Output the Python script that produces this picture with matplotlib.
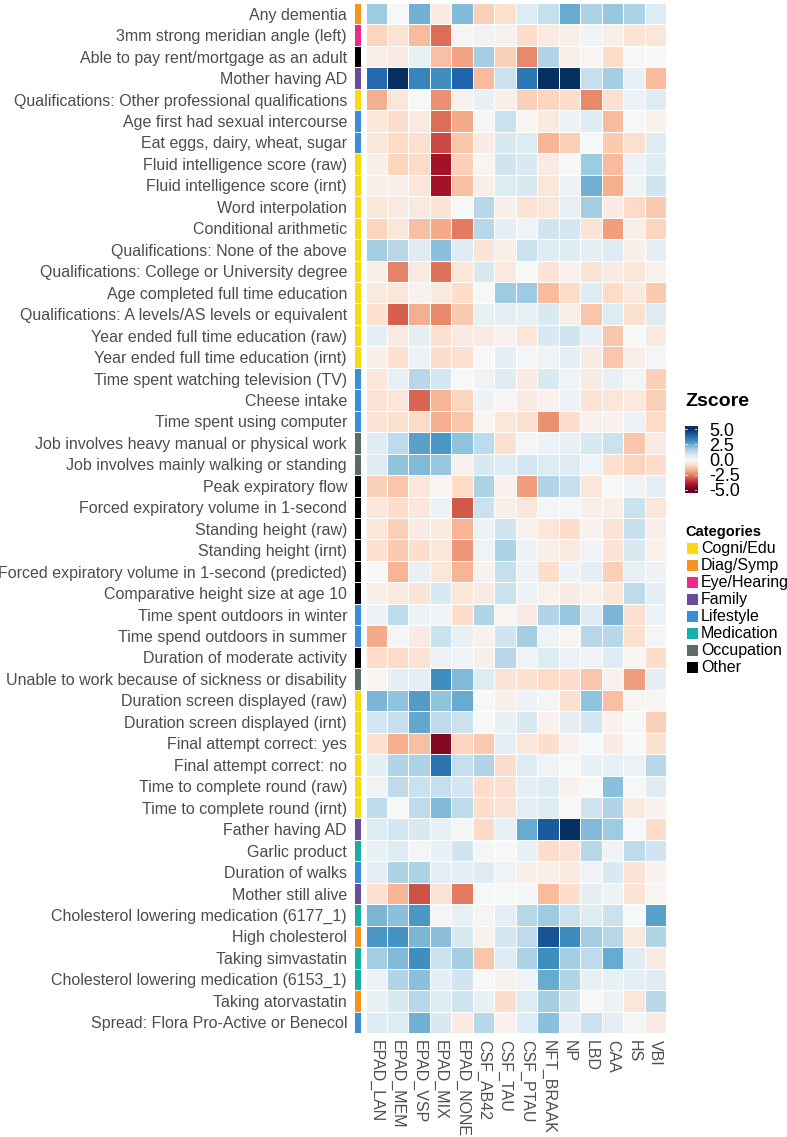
import numpy as np
import matplotlib
matplotlib.use("Agg")
import matplotlib.pyplot as plt
from matplotlib.colors import ListedColormap
from matplotlib.patches import Rectangle

plt.rcParams['font.family'] = ['Liberation Sans', 'DejaVu Sans']

colunas = ["EPAD_LAN", "EPAD_MEM", "EPAD_VSP", "EPAD_MIX", "EPAD_NONE", "CSF_AB42",
           "CSF_TAU", "CSF_PTAU", "NFT_BRAAK", "NP", "LBD", "CAA", "HS", "VBI"]

linhas = [
    "Any dementia",
    "3mm strong meridian angle (left)",
    "Able to pay rent/mortgage as an adult",
    "Mother having AD",
    "Qualifications: Other professional qualifications",
    "Age first had sexual intercourse",
    "Eat eggs, dairy, wheat, sugar",
    "Fluid intelligence score (raw)",
    "Fluid intelligence score (irnt)",
    "Word interpolation",
    "Conditional arithmetic",
    "Qualifications: None of the above",
    "Qualifications: College or University degree",
    "Age completed full time education",
    "Qualifications: A levels/AS levels or equivalent",
    "Year ended full time education (raw)",
    "Year ended full time education (irnt)",
    "Time spent watching television (TV)",
    "Cheese intake",
    "Time spent using computer",
    "Job involves heavy manual or physical work",
    "Job involves mainly walking or standing",
    "Peak expiratory flow",
    "Forced expiratory volume in 1-second",
    "Standing height (raw)",
    "Standing height (irnt)",
    "Forced expiratory volume in 1-second (predicted)",
    "Comparative height size at age 10",
    "Time spent outdoors in winter",
    "Time spend outdoors in summer",
    "Duration of moderate activity",
    "Unable to work because of sickness or disability",
    "Duration screen displayed (raw)",
    "Duration screen displayed (irnt)",
    "Final attempt correct: yes",
    "Final attempt correct: no",
    "Time to complete round (raw)",
    "Time to complete round (irnt)",
    "Father having AD",
    "Garlic product",
    "Duration of walks",
    "Mother still alive",
    "Cholesterol lowering medication (6177_1)",
    "High cholesterol",
    "Taking simvastatin",
    "Cholesterol lowering medication (6153_1)",
    "Taking atorvastatin",
    "Spread: Flora Pro-Active or Benecol",
]

categoria_linha = [
    "Diag/Symp", "Eye/Hearing", "Other", "Family", "Cogni/Edu", "Lifestyle", "Lifestyle",
    "Cogni/Edu", "Cogni/Edu", "Cogni/Edu", "Cogni/Edu", "Cogni/Edu", "Cogni/Edu",
    "Cogni/Edu", "Cogni/Edu", "Cogni/Edu", "Cogni/Edu", "Lifestyle", "Lifestyle",
    "Lifestyle", "Occupation", "Occupation", "Other", "Other", "Other", "Other", "Other",
    "Other", "Lifestyle", "Lifestyle", "Other", "Occupation", "Cogni/Edu", "Cogni/Edu",
    "Cogni/Edu", "Cogni/Edu", "Cogni/Edu", "Cogni/Edu", "Family", "Medication",
    "Lifestyle", "Family", "Medication", "Diag/Symp", "Medication", "Medication",
    "Diag/Symp", "Lifestyle",
]

categorias = ["Cogni/Edu", "Diag/Symp", "Eye/Hearing", "Family", "Lifestyle",
              "Medication", "Occupation", "Other"]
cores_cat = ["#FBD80F", "#F7941D", "#EC2A8C", "#6A4C9C", "#3A8FD6", "#17AFA7",
             "#5E6A68", "#000000"]

zscore = np.array([
    [1.8, 0.0, 2.4, -0.4, 2.2, -1.2, -0.8, 0.7, 1.2, 2.5, 1.6, 1.9, 1.6, 0.7],
    [-1.1, -0.7, -1.6, -2.8, -0.1, 0.2, -0.2, -0.9, -0.4, -0.3, 0.2, -0.3, -0.7, -0.6],
    [-0.3, -0.4, 0.4, -1.5, -2.0, 1.7, -1.2, -2.4, 1.5, -0.3, -0.1, -1.0, 0.0, 0.0],
    [3.9, 5.0, 3.3, 3.1, 4.0, -1.6, 1.1, 3.6, 5.0, 5.0, 1.2, 1.7, 0.4, -1.6],
    [-1.8, -0.6, 0.0, -2.3, -0.2, 0.4, -0.3, -1.2, -1.1, -0.9, -2.4, -0.8, 0.3, 0.6],
    [-0.6, -0.9, -0.5, -2.8, -1.9, 0.1, 1.1, -0.1, -0.5, 0.3, 0.6, -1.6, 0.0, -0.2],
    [-0.6, -1.0, -0.8, -3.3, -1.4, -0.4, 0.8, 0.7, -1.7, -1.2, 0.0, -1.3, -0.8, 0.6],
    [-0.3, -1.1, -1.0, -4.2, -1.2, -0.1, 1.0, 0.8, -0.4, 0.0, 1.8, -1.6, 0.3, 0.6],
    [-0.3, -0.3, -0.6, -4.2, -1.5, -0.3, 0.7, 0.8, -0.6, 0.3, 2.4, -1.8, 0.2, 1.0],
    [-0.6, -0.4, -0.5, -0.7, 0.0, 1.4, -0.3, -0.7, -0.6, 0.4, 1.7, -0.4, -1.0, -1.3],
    [-1.1, -0.6, -1.5, -1.9, -2.6, 1.4, 0.5, 0.2, 1.0, 0.9, -0.7, -2.1, -0.3, -1.1],
    [1.7, 1.4, 0.6, 2.1, 0.6, -0.7, -0.3, 1.1, 0.6, 0.6, 0.5, 0.6, -0.3, 0.5],
    [-0.3, -2.5, -0.5, -2.7, -0.6, 0.8, -0.5, 0.0, -0.7, -0.2, -0.7, -0.4, -0.6, -0.2],
    [-0.5, -0.6, -0.2, -0.5, -0.9, 0.0, 1.8, 1.8, -1.6, -1.0, 0.7, -1.0, -0.5, -1.3],
    [-0.8, -3.0, -1.8, -2.4, -1.3, 0.4, 0.5, 0.4, 0.8, -0.3, -1.4, 0.7, -0.8, 0.6],
    [0.5, -0.4, 0.5, -0.8, -0.4, -0.4, -0.2, -0.6, 0.8, 1.0, 0.4, -1.4, 0.0, -0.5],
    [-0.3, -0.8, 0.3, -0.9, -0.8, 0.0, 0.5, 0.1, 0.2, 0.5, -0.4, -1.4, -0.3, 0.1],
    [-0.6, 0.4, 1.4, 0.9, 0.0, 0.2, 0.6, -0.4, 0.8, 0.2, -0.4, 0.4, 0.1, -1.2],
    [-0.7, -0.6, -2.9, -1.7, -1.1, 0.3, -0.1, -0.4, -0.2, 0.3, -0.7, -0.6, -0.5, -1.2],
    [-0.7, -0.8, -1.0, -1.8, -1.4, -0.1, -0.6, -0.8, -2.3, -0.9, -0.2, -0.2, 0.3, -1.0],
    [0.6, 1.3, 2.7, 2.9, 2.0, 1.3, -0.8, 0.1, 0.3, 0.4, 0.8, 1.1, -1.4, -0.4],
    [0.6, 2.0, 2.2, 1.9, -0.2, 0.8, 0.6, 0.9, 0.7, 0.7, 0.2, -0.8, -1.1, -0.9],
    [-1.2, -1.4, -0.6, -0.1, -1.0, 1.6, -0.2, -2.1, 1.5, 1.2, -0.6, 0.0, 0.2, 0.5],
    [-0.6, -0.9, -0.6, 0.3, -3.1, 1.1, -0.3, -0.6, 0.1, 0.1, -0.3, -0.3, 1.1, -0.6],
    [-0.6, -1.2, -0.4, -0.5, -1.7, 0.3, 1.0, -0.2, -0.6, -0.9, -0.2, -0.7, 1.2, -0.3],
    [-0.8, -1.3, -0.9, -0.6, -2.2, 0.2, 1.6, 0.3, -0.3, -0.5, 0.2, -0.7, 0.8, -0.2],
    [0.0, -1.7, 0.4, -0.6, -1.7, -0.2, 1.2, 0.3, -0.9, 0.3, 0.5, -1.2, 0.4, 0.3],
    [-0.3, -0.5, -0.7, 0.8, -0.6, -0.4, 1.1, 0.3, -0.2, -0.4, -0.2, -0.6, 1.3, 0.5],
    [0.3, 1.3, 0.3, 0.2, -0.9, 1.5, -0.1, -0.4, 1.5, 1.9, 0.6, 2.3, -0.8, 0.3],
    [-1.9, 0.1, -0.4, 1.1, 0.4, -0.2, 1.0, 1.7, 0.2, -0.1, 1.4, 1.4, -0.8, 0.1],
    [-0.9, -1.0, -0.7, 0.3, 0.2, -0.3, 1.4, 0.2, 0.7, 0.3, 0.2, 0.6, -0.1, -0.9],
    [-0.1, 0.5, 0.5, 3.1, 2.2, 0.7, -0.7, -0.8, -1.0, -0.9, -1.4, -0.2, -2.1, 0.5],
    [2.3, 2.0, 2.8, 2.0, 2.5, 0.0, -0.3, 0.3, 0.1, -0.8, 2.0, -1.5, -0.1, -0.1],
    [0.9, 1.2, 2.6, 1.3, 1.1, 0.0, 0.4, 0.8, -0.2, 0.5, 0.9, -0.2, 0.0, -1.2],
    [-0.8, -1.8, -1.5, -4.6, -1.1, -1.3, 0.5, -0.6, -0.9, -0.2, 0.0, -0.4, 0.0, -0.8],
    [0.5, 1.5, 1.6, 3.7, 1.2, 1.5, -0.9, 0.7, 0.2, 0.0, 0.4, 0.4, 0.3, 1.4],
    [0.2, 1.3, 1.1, 1.2, 0.9, -0.9, -0.8, 0.5, 0.6, -0.2, 0.0, 2.1, 0.0, 0.6],
    [1.3, 0.0, 1.3, 2.2, 1.3, -0.9, -0.7, 0.5, 0.7, 0.0, 1.0, 1.5, -0.5, -0.2],
    [0.7, 0.9, 0.8, 0.4, 0.1, -1.0, 0.4, 2.5, 4.2, 5.0, 2.2, 1.8, 0.0, -0.9],
    [0.4, 0.7, 0.1, 0.4, 1.0, 0.1, 0.0, 0.4, -0.9, -0.7, 1.4, 0.2, 1.3, 1.0],
    [0.5, 1.6, 1.6, 0.5, 0.5, 0.6, 0.2, -0.3, -0.3, -0.5, 0.2, 0.8, -0.7, -0.2],
    [-0.8, -1.7, -3.2, -0.7, -2.6, 0.0, 0.0, 0.1, -1.6, -0.9, 0.5, 0.3, -0.7, -0.1],
    [2.3, 2.1, 2.9, 0.1, 0.4, -0.1, 0.5, 1.4, 1.8, 1.1, 0.6, 1.1, 0.0, 2.7],
    [2.9, 3.0, 2.3, 2.1, 0.8, -0.2, 0.9, 1.3, 4.3, 3.2, 1.7, 1.4, -0.5, 1.5],
    [1.7, 2.2, 3.1, 1.1, 1.7, -1.4, 0.6, 1.6, 3.1, 1.7, 1.3, 2.5, 0.6, -0.4],
    [0.3, 1.5, 2.1, 0.5, 1.0, 0.0, -0.2, 0.2, 2.5, 1.5, 0.4, 0.4, 0.5, 0.6],
    [0.4, 0.8, 1.4, 0.6, 1.0, 0.4, -0.9, 0.7, 1.7, 1.0, 0.0, 0.3, -0.6, 1.4],
    [0.7, 0.7, 2.4, 0.8, -0.4, 1.4, -0.2, 0.7, 2.1, 0.4, 1.1, 0.5, 0.1, -0.4],
])

W, H = 787, 1137
fig = plt.figure(figsize=(W / 100, H / 100), dpi=100)
cinza = "#4d4d4d"


def eixo(x0, y0, x1, y1):
    # axes placed in pixel coordinates (origin top-left)
    return fig.add_axes([x0 / W, 1 - y1 / H, (x1 - x0) / W, (y1 - y0) / H])


# heatmap
ax = eixo(365.5, 3, 666, 1033)
ax.pcolormesh(zscore, cmap="RdBu", vmin=-5, vmax=5, edgecolors="white", linewidth=0.4)
ax.set_xlim(0, len(colunas))
ax.set_ylim(len(linhas), 0)
ax.set_xticks(np.arange(len(colunas)) + 0.5)
ax.set_xticklabels(colunas, rotation=270, fontsize=11.5, color=cinza)
ax.set_yticks([])
ax.tick_params(length=0, pad=5)
for s in ax.spines.values():
    s.set_visible(False)

# category strip with row labels
axc = eixo(354, 3, 360.5, 1033)
idx = np.array([[categorias.index(c)] for c in categoria_linha])
axc.pcolormesh(idx, cmap=ListedColormap(cores_cat), vmin=-0.5, vmax=len(categorias) - 0.5,
               edgecolors="white", linewidth=0.5)
axc.set_ylim(len(linhas), 0)
axc.set_xticks([])
axc.set_yticks(np.arange(len(linhas)) + 0.5)
axc.set_yticklabels(linhas, fontsize=11.5, color=cinza)
axc.tick_params(length=0, pad=5)
for s in axc.spines.values():
    s.set_visible(False)

# colorbar legend
fig.text(685 / W, 1 - 401 / H, "Zscore", fontsize=14, fontweight="bold", va="center")
axb = eixo(685, 426, 697, 493)
grad = np.linspace(-5.5, 5.5, 200).reshape(-1, 1)
axb.imshow(grad, cmap="RdBu", vmin=-5, vmax=5, aspect="auto", origin="lower",
           extent=[0, 1, -5.5, 5.5])
axb.set_ylim(-5.5, 5.5)
axb.set_xticks([])
axb.yaxis.tick_right()
axb.set_yticks([5, 2.5, 0, -2.5, -5])
axb.set_yticklabels(["5.0", "2.5", "0.0", "-2.5", "-5.0"], fontsize=13, color="black")
axb.tick_params(length=0, pad=9)
for t in [5, 2.5, 0, -2.5, -5]:
    axb.plot([0, 0.2], [t, t], color="white", lw=0.6)
    axb.plot([0.8, 1], [t, t], color="white", lw=0.6)
axb.set_xlim(0, 1)
for s in axb.spines.values():
    s.set_visible(False)

# categories legend
fig.text(685 / W, 1 - 532 / H, "Categories", fontsize=10.5, fontweight="bold", va="center")
axl = fig.add_axes([0, 0, 1, 1])
axl.set_xlim(0, W)
axl.set_ylim(H, 0)
axl.axis("off")
for i, (nome, cor) in enumerate(zip(categorias, cores_cat)):
    yc = 548 + 17.1 * i
    axl.add_patch(Rectangle((687, yc - 5.5), 11, 11, facecolor=cor, edgecolor="none"))
    axl.text(701, yc, nome, fontsize=11.5, va="center", ha="left", color="black")

fig.savefig("out.png", dpi=100)
